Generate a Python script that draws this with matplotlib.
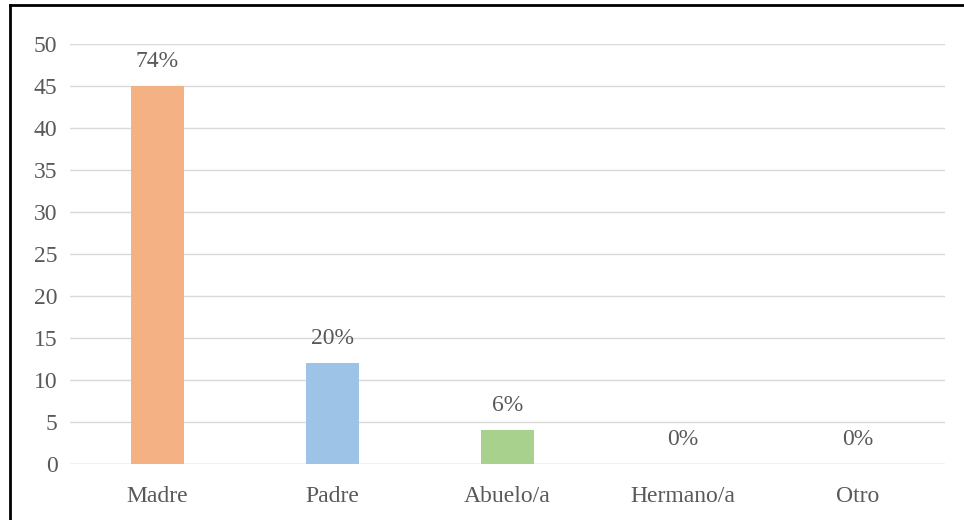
import matplotlib.pyplot as plt
from matplotlib.lines import Line2D

categorias = ['Madre', 'Padre', 'Abuelo/a', 'Hermano/a', 'Otro']
valores = [45, 12, 4, 0, 0]
porcentajes = ['74%', '20%', '6%', '0%', '0%']
colores = ['#F4B183', '#9DC3E6', '#A9D18E', '#FFD966', '#8FAADC']

plt.rcParams['font.family'] = ['Liberation Serif', 'DejaVu Serif']
gris = '#595959'

fig = plt.figure(figsize=(9.64, 5.2), dpi=100)
ax = fig.add_axes([70 / 964, 1 - 464 / 520, 875 / 964, 420 / 520])

x = range(len(categorias))
barras = ax.bar(x, valores, width=0.30, color=colores, zorder=3)

for b, txt in zip(barras, porcentajes):
    ax.text(b.get_x() + b.get_width() / 2, b.get_height() + 1.7, txt,
            ha='center', va='bottom', fontsize=17, color=gris)

ax.set_xlim(-0.5, len(categorias) - 0.5)
ax.set_ylim(0, 50)
ax.set_yticks(range(0, 51, 5))
ax.set_xticks(list(x))
ax.set_xticklabels(categorias)
ax.yaxis.grid(True, color='#D9D9D9', linewidth=1, zorder=0)
ax.tick_params(axis='both', length=0, labelsize=17, labelcolor=gris)
ax.tick_params(axis='y', pad=9)
ax.tick_params(axis='x', pad=16)
for s in ax.spines.values():
    s.set_visible(False)
ax.axhline(0, color='#D9D9D9', linewidth=1, zorder=2)

# marco de la imagen (solo arriba e izquierda)
fig.add_artist(Line2D([9.5 / 964, 9.5 / 964], [0, 1 - 5 / 520], transform=fig.transFigure, color='black', linewidth=2))
fig.add_artist(Line2D([9.5 / 964, 1], [1 - 5 / 520, 1 - 5 / 520], transform=fig.transFigure, color='black', linewidth=2))

fig.savefig('out.png', dpi=100)
